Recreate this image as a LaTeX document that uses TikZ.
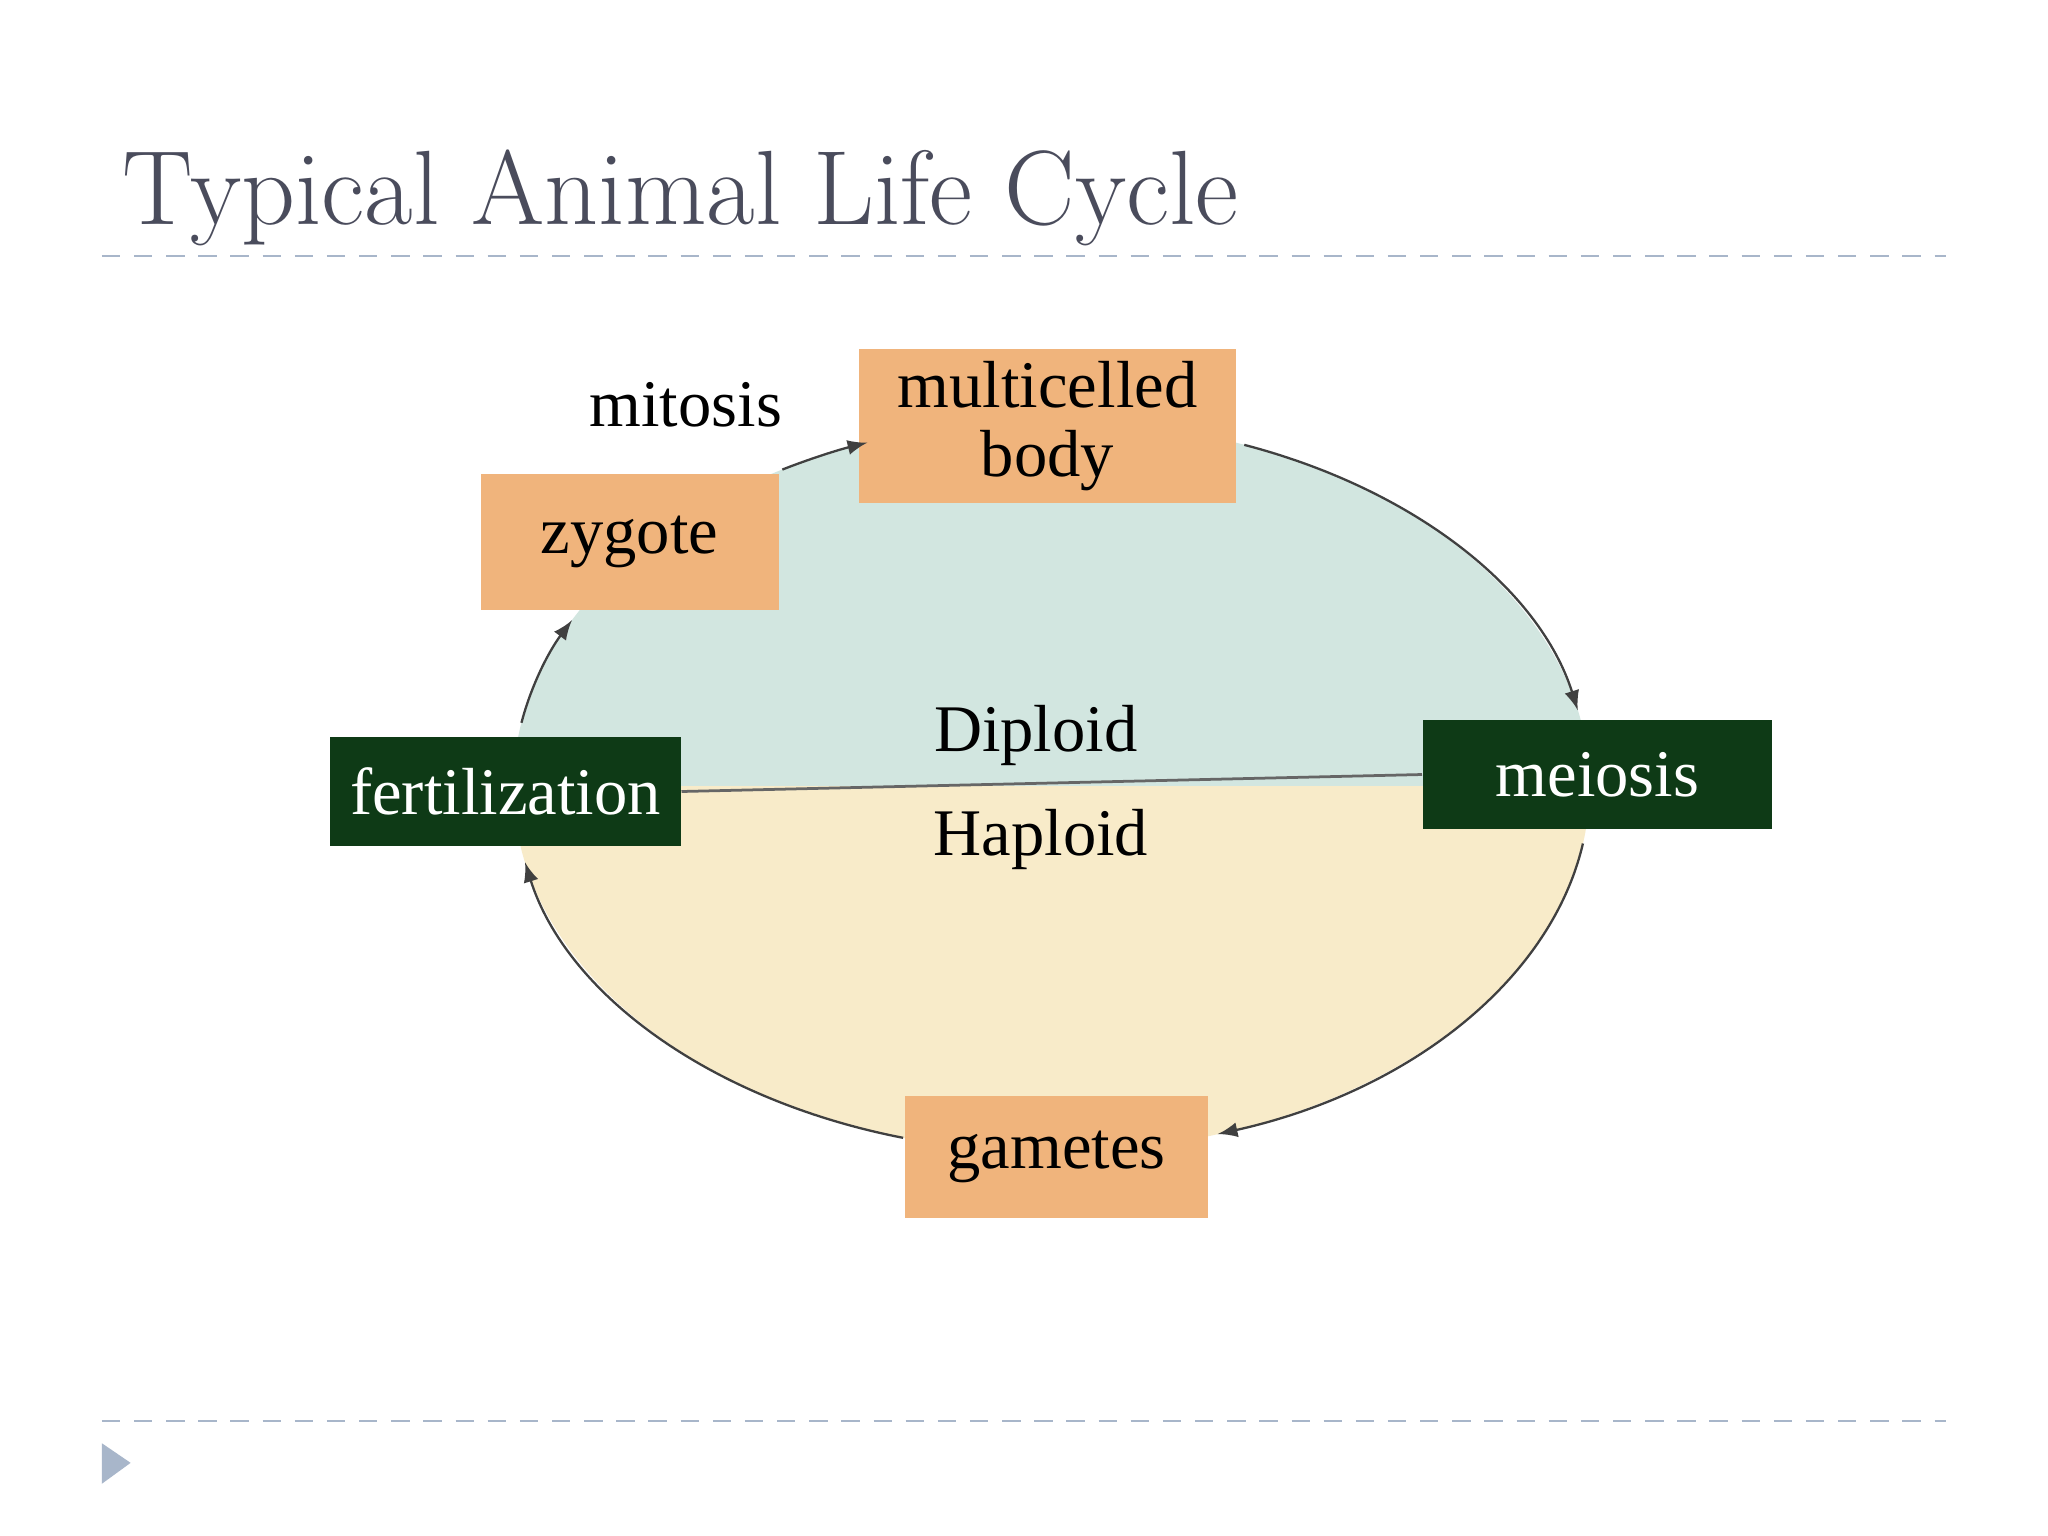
\documentclass[tikz,border=0pt]{standalone}
\usepackage{fontspec}
\newfontfamily\diag{Liberation Serif}
\definecolor{tan}{HTML}{F0B47C}
\definecolor{dgreen}{HTML}{0E3A16}
\definecolor{dip}{HTML}{D2E6E0}
\definecolor{hap}{HTML}{F8EBC9}
\definecolor{rule}{HTML}{A8B6CA}
\definecolor{ttl}{HTML}{4A4C5C}
\tikzset{
  lbox/.style={fill=tan, minimum width=#1, inner sep=0pt, font=\diag\fontsize{14.5}{15}\selectfont, align=center},
  gbox/.style={fill=dgreen, text=white, minimum width=#1, minimum height=0.83cm, inner sep=0pt, font=\diag\fontsize{14.5}{15}\selectfont},
  cyc/.style={->, >=latex, draw=black!75, line width=0.5pt},
  lbl/.style={font=\diag\fontsize{14.5}{15}\selectfont}
}
\begin{document}
\begin{tikzpicture}[x=0.01cm,y=-0.01cm]
\useasboundingbox (0,0) rectangle (1568,1176);
\fill[white] (0,0) rectangle (1568,1176);
\node[anchor=base west, text=ttl, font=\fontsize{23}{25}\selectfont, inner sep=0pt] (title) at (93,172) {Typical Animal Life Cycle};
\draw[rule, dash pattern=on 4pt off 3pt, line width=0.6pt] (78,196) -- (1490,196);
\draw[rule, dash pattern=on 4pt off 3pt, line width=0.6pt] (78,1088) -- (1490,1088);
\fill[rule] (78,1105) -- (78,1136) -- (100,1120) -- cycle;
\coordinate (c) at (805,602);
\begin{scope}
\clip (c) ellipse [x radius=412, y radius=280];
\fill[dip] (380,300) rectangle (1230,602);
\fill[hap] (380,602) rectangle (1230,900);
\end{scope}
\node[lbox=2.89cm, minimum height=1.18cm] (body) at (802,326) {multicelled\\body};
\node[lbox=2.28cm, minimum height=1.04cm] (zyg) at (482,415) {zygote};
\node[gbox=2.68cm] (fert) at (387,606) {fertilization};
\node[gbox=2.67cm] (mei) at (1223,593) {meiosis};
\node[lbox=2.32cm, minimum height=0.93cm] (gam) at (809,886) {gametes};
\node[lbl] (mit) at (525,310) {mitosis};
\node[lbl] (dip) at (793,563) {Diploid};
\node[lbl] (hap) at (797,643) {Haploid};
\draw[black!60, line width=0.6pt] (fert.east) -- (mei.west);
\draw[cyc] (c) ++(-120:412 and 280) arc[start angle=-120, end angle=-110, x radius=412, y radius=280];
\draw[cyc] (c) ++(-69:412 and 280) arc[start angle=-69, end angle=-12, x radius=412, y radius=280];
\draw[cyc] (c) ++(9:412 and 280) arc[start angle=9, end angle=72, x radius=412, y radius=280];
\draw[cyc] (c) ++(106:412 and 280) arc[start angle=106, end angle=168, x radius=412, y radius=280];
\draw[cyc] (c) ++(190:412 and 280) arc[start angle=190, end angle=207, x radius=412, y radius=280];
\end{tikzpicture}
\end{document}
